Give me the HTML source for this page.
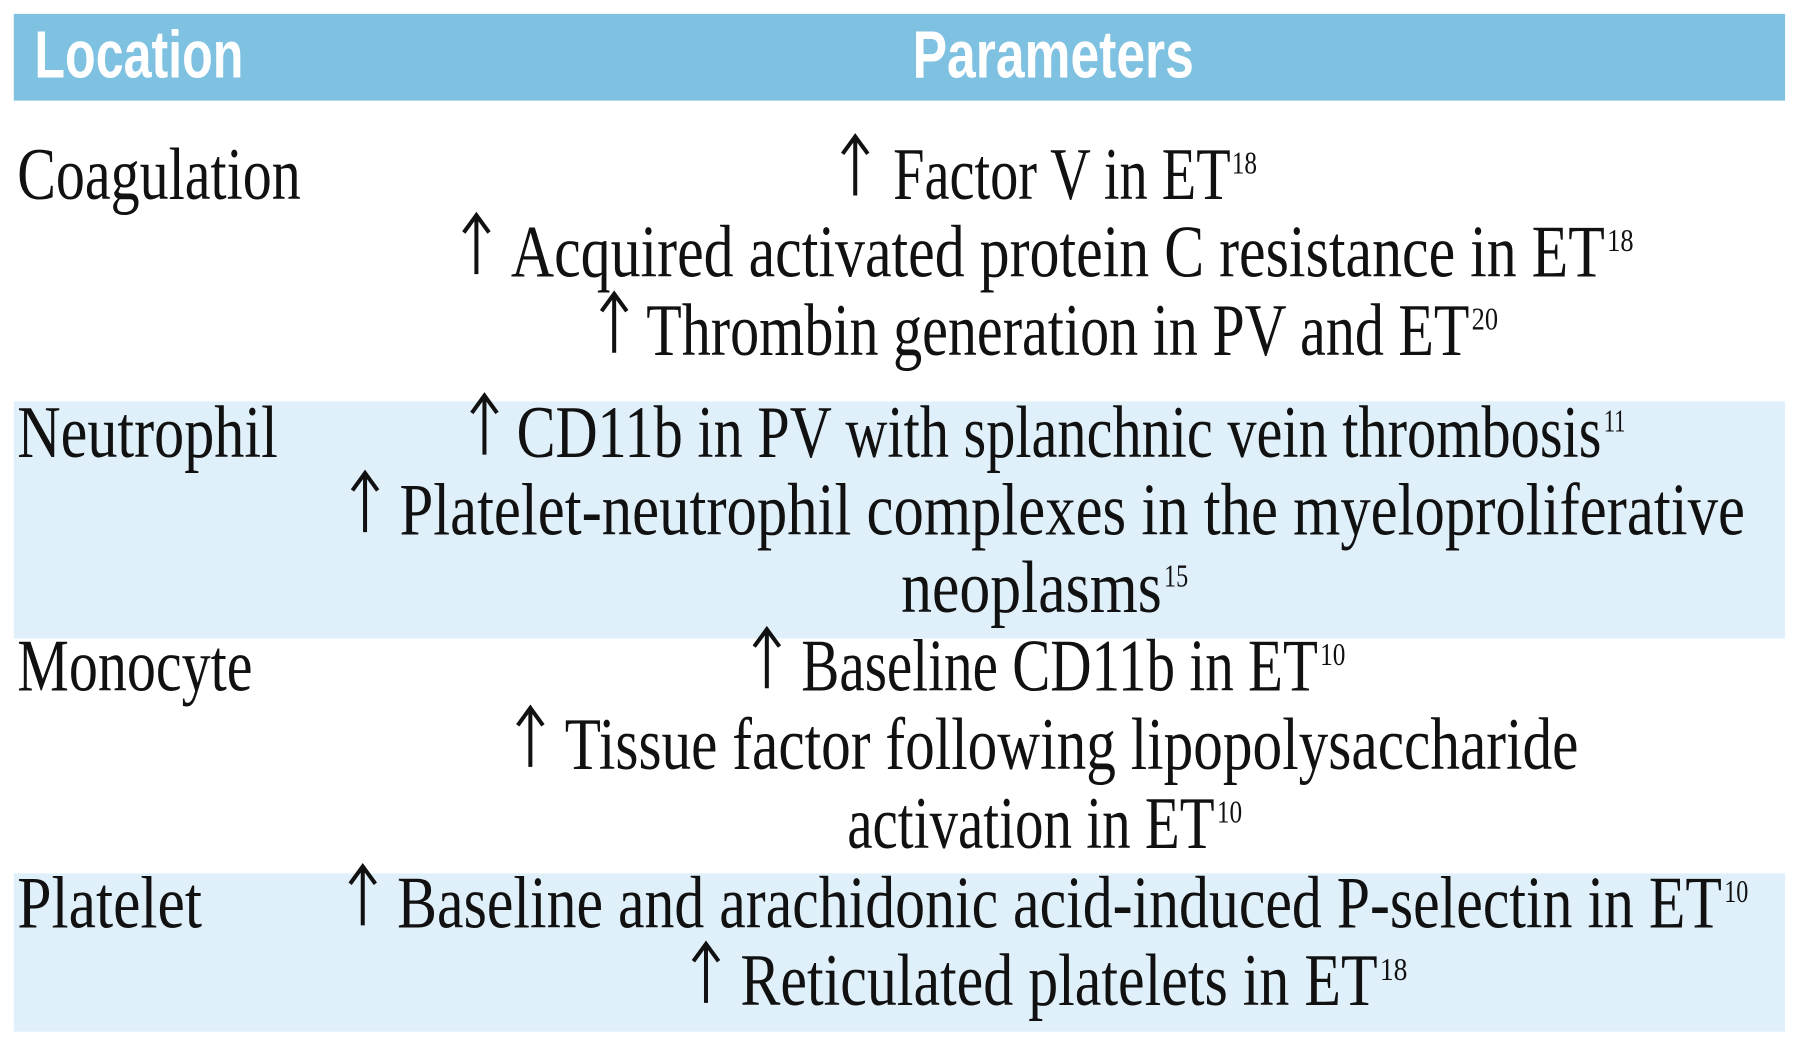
<!DOCTYPE html>
<html><head><meta charset="utf-8"><style>
html,body{margin:0;padding:0;background:#fff;}
svg{display:block}
text{font-family:"Liberation Serif",serif;fill:#111;}
.h{font-family:"Liberation Sans",sans-serif;font-weight:bold;fill:#fff;font-size:58px}
.t{font-size:64px}
.s{font-size:27px}
</style></head><body>
<svg width="1800" height="1048" viewBox="0 0 1568 906" preserveAspectRatio="none" xmlns="http://www.w3.org/2000/svg">
<rect x="12" y="12" width="1543" height="75" fill="#7fc1e1"/>
<rect x="12" y="347" width="1543" height="205" fill="#dff0fa"/>
<rect x="12" y="755" width="1543" height="137" fill="#dff0fa"/>
<text class="h" x="30" y="67" textLength="182" lengthAdjust="spacingAndGlyphs">Location</text>
<text class="h" x="795" y="67" textLength="245" lengthAdjust="spacingAndGlyphs">Parameters</text>
<g transform="translate(0,-3)">
<text class="t" x="15" y="175" textLength="247" lengthAdjust="spacingAndGlyphs">Coagulation</text>
<text class="t" x="15" y="398" textLength="227" lengthAdjust="spacingAndGlyphs">Neutrophil</text>
<text class="t" x="15" y="600" textLength="205" lengthAdjust="spacingAndGlyphs">Monocyte</text>
<text class="t" x="15" y="805" textLength="161" lengthAdjust="spacingAndGlyphs">Platelet</text>

<g stroke="#111" stroke-width="3.5" fill="none">
<path d="M745 172V122M734 136L745 121L756 136"/>
<path d="M415 240V190M404 204L415 189L426 204"/>
<path d="M535 308V258M524 272L535 257L546 272"/>
<path d="M422 396V346M411 360L422 345L433 360"/>
<path d="M318 463V413M307 427L318 412L329 427"/>
<path d="M668 598V548M657 562L668 547L679 562"/>
<path d="M462 666V616M451 630L462 615L473 630"/>
<path d="M316 803V753M305 767L316 752L327 767"/>
<path d="M615 870V820M604 834L615 819L626 834"/>
</g>

<text class="t" x="778" y="175" textLength="294" lengthAdjust="spacingAndGlyphs">Factor V in ET</text>
<text class="s" x="1073" y="153" textLength="22" lengthAdjust="spacingAndGlyphs">18</text>
<text class="t" x="445" y="242" textLength="953" lengthAdjust="spacingAndGlyphs">Acquired activated protein C resistance in ET</text>
<text class="s" x="1400" y="220" textLength="23" lengthAdjust="spacingAndGlyphs">18</text>
<text class="t" x="563" y="310" textLength="717" lengthAdjust="spacingAndGlyphs">Thrombin generation in PV and ET</text>
<text class="s" x="1282" y="288" textLength="23" lengthAdjust="spacingAndGlyphs">20</text>

<text class="t" x="450" y="398" textLength="945" lengthAdjust="spacingAndGlyphs">CD11b in PV with splanchnic vein thrombosis</text>
<text class="s" x="1397" y="376" textLength="19" lengthAdjust="spacingAndGlyphs">11</text>
<text class="t" x="348" y="465" textLength="1172" lengthAdjust="spacingAndGlyphs">Platelet-neutrophil complexes in the myeloproliferative</text>
<text class="t" x="785" y="532" textLength="227" lengthAdjust="spacingAndGlyphs">neoplasms</text>
<text class="s" x="1014" y="510" textLength="21" lengthAdjust="spacingAndGlyphs">15</text>

<text class="t" x="698" y="600" textLength="450" lengthAdjust="spacingAndGlyphs">Baseline CD11b in ET</text>
<text class="s" x="1150" y="578" textLength="22" lengthAdjust="spacingAndGlyphs">10</text>
<text class="t" x="492" y="668" textLength="883" lengthAdjust="spacingAndGlyphs">Tissue factor following lipopolysaccharide</text>
<text class="t" x="738" y="736" textLength="320" lengthAdjust="spacingAndGlyphs">activation in ET</text>
<text class="s" x="1060" y="714" textLength="22" lengthAdjust="spacingAndGlyphs">10</text>

<text class="t" x="346" y="805" textLength="1154" lengthAdjust="spacingAndGlyphs">Baseline and arachidonic acid-induced P-selectin in ET</text>
<text class="s" x="1502" y="783" textLength="21" lengthAdjust="spacingAndGlyphs">10</text>
<text class="t" x="645" y="872" textLength="555" lengthAdjust="spacingAndGlyphs">Reticulated platelets in ET</text>
<text class="s" x="1202" y="850" textLength="24" lengthAdjust="spacingAndGlyphs">18</text>
</g>
</svg>
</body></html>
